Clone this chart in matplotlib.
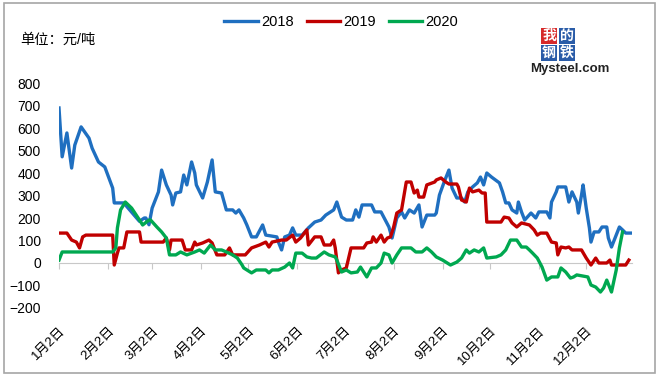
import matplotlib
matplotlib.use("Agg")
import matplotlib.pyplot as plt
from matplotlib.patches import Rectangle

plt.rcParams['font.family'] = ['Liberation Sans', 'Noto Sans CJK SC']

# x轴: 距1月2日的天数
tick_days = [0, 31, 59, 90, 120, 151, 181, 212, 243, 273, 304, 334]
tick_labels = ['1月2日', '2月2日', '3月2日', '4月2日', '5月2日', '6月2日',
               '7月2日', '8月2日', '9月2日', '10月2日', '11月2日', '12月2日']

days_2018 = [0, 2, 5, 8, 10, 14, 19, 21, 25, 29,
             34, 35, 41, 51, 54, 55, 57, 59, 63, 65,
             68, 71, 72, 74, 77, 79, 81, 84, 86, 87,
             91, 94, 97, 99, 103, 106, 110, 112, 114, 117,
             119, 122, 125, 129, 131, 138, 139, 141, 143, 146,
             148, 150, 154, 158, 162, 166, 169, 174, 176, 179,
             182, 186, 188, 190, 192, 198, 200, 204, 206, 209,
             211, 214, 217, 219, 222, 225, 228, 230, 233, 238,
             239, 241, 244, 247, 249, 252, 255, 257, 259, 262,
             265, 267, 269, 271, 274, 279, 281, 283, 285, 287,
             290, 291, 293, 295, 299, 302, 304, 309, 311, 312,
             315, 316, 321, 323, 325, 328, 329, 331, 332, 334,
             336, 337, 339, 342, 344, 347, 348, 350, 353, 355,
             357, 359, 362]
vals_2018 = [689, 472, 578, 422, 524, 605, 555, 510, 449, 427,
             333, 267, 267, 185, 200, 200, 170, 244, 316, 413,
             347, 302, 258, 311, 316, 391, 347, 449, 400, 347,
             289, 360, 458, 316, 311, 236, 236, 222, 236, 200,
             169, 116, 116, 169, 124, 116, 93, 58, 116, 124,
             156, 124, 124, 156, 182, 191, 213, 236, 271, 204,
             191, 191, 236, 204, 258, 258, 227, 227, 200, 160,
             111, 200, 227, 200, 236, 222, 258, 160, 213, 213,
             222, 302, 360, 413, 333, 289, 289, 271, 316, 338,
             356, 382, 347, 400, 382, 356, 316, 267, 267, 236,
             222, 271, 227, 191, 222, 200, 227, 227, 200, 271,
             316, 338, 338, 271, 316, 271, 222, 302, 347, 244,
             156, 93, 138, 138, 160, 160, 111, 71, 124, 160,
             147, 133, 133]

days_2019 = [0, 5, 8, 11, 13, 15, 17, 34, 35, 37,
             38, 41, 43, 51, 52, 66, 68, 70, 71, 78,
             80, 84, 86, 87, 91, 95, 97, 100, 105, 108,
             110, 118, 122, 127, 131, 133, 135, 141, 144, 148,
             150, 153, 157, 158, 162, 166, 168, 172, 174, 175,
             177, 179, 182, 185, 193, 195, 198, 199, 201, 204,
             206, 208, 210, 212, 214, 217, 220, 223, 225, 227,
             228, 231, 233, 238, 239, 242, 245, 247, 252, 253,
             255, 258, 260, 262, 266, 268, 270, 271, 280, 282,
             285, 287, 290, 293, 298, 301, 303, 305, 309, 312,
             315, 316, 318, 321, 323, 325, 331, 334, 337, 340,
             342, 347, 349, 350, 359, 361]
vals_2019 = [133, 133, 102, 93, 67, 116, 124, 124, -9, 44,
             67, 67, 138, 138, 93, 93, 111, 58, 102, 102,
             58, 58, 93, 80, 89, 102, 89, 36, 36, 67,
             36, 36, 67, 80, 93, 71, 93, 102, 102, 124,
             93, 111, 147, 80, 116, 116, 80, 80, 102, 67,
             -44, -31, -22, 67, 67, 89, 93, 116, 93, 124,
             93, 111, 116, 160, 222, 236, 360, 360, 311, 324,
             293, 293, 347, 360, 369, 378, 360, 351, 351, 338,
             280, 271, 333, 316, 324, 311, 311, 182, 182, 204,
             200, 178, 160, 178, 169, 147, 124, 133, 133, 93,
             89, 36, 71, 67, 71, 58, 58, 22, -9, 22,
             0, 0, 13, -9, -9, 13]

days_2020 = [0, 2, 34, 36, 37, 39, 42, 46, 51, 53,
             57, 58, 62, 65, 68, 70, 74, 77, 81, 86,
             89, 92, 96, 99, 103, 106, 110, 113, 116, 117,
             122, 125, 131, 133, 135, 139, 143, 146, 148, 150,
             154, 157, 160, 163, 168, 171, 175, 176, 179, 182,
             185, 189, 191, 195, 198, 201, 204, 206, 209, 211,
             214, 217, 223, 226, 230, 233, 236, 239, 243, 248,
             252, 255, 258, 260, 263, 266, 269, 271, 277, 280,
             283, 286, 290, 293, 296, 298, 300, 303, 306, 309,
             312, 316, 318, 321, 324, 326, 328, 335, 337, 340,
             343, 345, 347, 349, 350, 353, 355, 357]
vals_2020 = [13, 49, 49, 67, 156, 236, 271, 244, 191, 169,
             191, 191, 160, 138, 111, 36, 36, 49, 36, 49,
             58, 44, 80, 58, 58, 49, 36, 22, -9, -22,
             -44, -31, -31, -44, -31, -31, -18, 0, -22, 44,
             44, 27, 22, 22, 49, 36, 27, 13, -40, -31,
             -44, -40, -18, -62, -22, -22, 0, 44, 36, 0,
             36, 67, 67, 49, 49, 67, 49, 27, 13, -9,
             4, 22, 58, 44, 58, 49, 67, 22, 27, 36,
             58, 102, 102, 71, 71, 58, 44, 22, -18, -76,
             -62, -62, -22, -40, -67, -62, -53, -62, -98, -107,
             -129, -111, -76, -111, -129, -31, 67, 138]

fig = plt.figure(figsize=(6.6, 3.78), dpi=100)
ax = fig.add_axes([0.0894, 0.1852, 0.8682, 0.5952])

ax.plot(days_2018, vals_2018, color='#1F6FC0', lw=2.4, label='2018')
ax.plot(days_2019, vals_2019, color='#C00000', lw=2.4, label='2019')
ax.plot(days_2020, vals_2020, color='#00A850', lw=2.4, label='2020')

ax.set_xlim(0, 363)
ax.set_ylim(-200, 800)
ax.set_yticks(range(-200, 900, 100))
for s in ax.spines.values():
    s.set_visible(False)
ax.tick_params(axis='y', length=0, labelsize=10, pad=13)

ax.set_xticks(tick_days)
ax.set_xticklabels(tick_labels, rotation=45, ha='right', va='top',
                   rotation_mode='anchor')
ax.tick_params(axis='x', length=0, labelsize=9.5, pad=12)

# 0轴线
zero = ax.secondary_xaxis(0.2)
zero.set_xticks(tick_days)
zero.tick_params(axis='x', length=4, color='#c8c8c8', labelbottom=False)
for s in zero.spines.values():
    s.set_visible(False)
zero.spines['bottom'].set_visible(True)
zero.spines['bottom'].set_color('#c8c8c8')
zero.spines['bottom'].set_linewidth(0.8)

fig.legend(loc='center', bbox_to_anchor=(0.517, 0.942), ncol=3, frameon=False,
           fontsize=10.5, handlelength=2.3, handletextpad=0.2, columnspacing=0.9)

fig.text(20 / 660, 1 - 40 / 378, '单位：元/吨', fontsize=10.3, va='center')

# 水印
logo = [('我', 549, 36, '#D62A2A'), ('的', 567, 36, '#2A5CA8'),
        ('钢', 549, 53, '#2A5CA8'), ('铁', 567, 53, '#2A5CA8')]
for ch, lx, ly, c in logo:
    fig.text(lx / 660, 1 - ly / 378, ch, fontsize=10, color='white',
             ha='center', va='center', fontweight='bold',
             bbox=dict(boxstyle='square,pad=0.05', fc=c, ec='none'))
fig.text(570 / 660, 1 - 69 / 378, 'Mysteel.com', fontsize=9.5, ha='center',
         va='center', fontweight='bold', color='#222222')

fig.add_artist(Rectangle((4 / 660, 1 - 373 / 378), 651 / 660, 370 / 378,
                         transform=fig.transFigure, fill=False,
                         ec='#a6a6a6', lw=1.2))

fig.savefig('out.png', dpi=100)
